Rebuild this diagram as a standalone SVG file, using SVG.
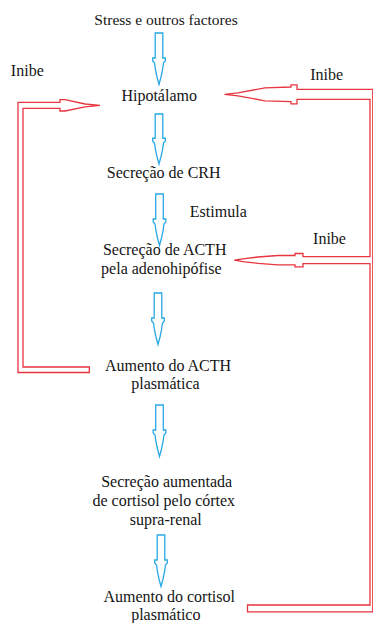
<svg xmlns="http://www.w3.org/2000/svg" xmlns:xlink="http://www.w3.org/1999/xlink" width="373" height="623" viewBox="0 0 373 623">
<style>
text{font-family:'Liberation Serif','Times New Roman','DejaVu Serif',serif;font-size:16px;fill:#151515;text-anchor:middle}
.blue{fill:#fff;stroke:#29a8e6;stroke-width:1.3;stroke-linejoin:miter}
.red{fill:none;stroke:#e8353f;stroke-width:1.3;stroke-linejoin:miter}
</style>
<defs>
<path id="ba" d="M-3.8,0 L3.8,0 L3.8,25 L6.3,25 L6.3,28 L4.5,30 L3.5,37 L2,44 L0,51.5 L-2,44 L-3.5,37 L-4.5,30 L-6.3,28 L-6.3,25 L-3.8,25 Z"/>
</defs>
<rect width="373" height="623" fill="#fff"/>
<g id="connectors">
<use xlink:href="#ba" class="blue" transform="translate(159,33)"/>
<use xlink:href="#ba" class="blue" transform="translate(159,114) scale(1,0.97)"/>
<use xlink:href="#ba" class="blue" transform="translate(159.5,194)"/>
<use xlink:href="#ba" class="blue" transform="translate(158,293)"/>
<use xlink:href="#ba" class="blue" transform="translate(159.5,405)"/>
<use xlink:href="#ba" class="blue" transform="translate(161,535)"/>
<path id="left-loop" class="red" d="M89.3,372.5 L18,372.5 L18,102.3 L60,102.3 L60,99.7 L65,99.7 L85,104 L100,105.3 L85,106.8 L65,111 L60,111 L60,108.3 L23,108.3 L23,367 L89.3,367 Z"/>
<path id="right-loop" class="red" d="M224.5,94.3 L238,92.8 L265,87.8 L291,87 L291,84.8 L297,84.8 L297,89.3 L372.8,89.3 L372.8,611.8 L247.5,611.8 L247.5,605 L370,605 L370,263.7 L303,263.7 L303,266.9 L295,266.9 L295,264.9 L278,264.9 L258,263.4 L243,261.6 L234.3,260.2 L243,258.8 L258,257 L278,255.5 L295,255.5 L295,253.5 L303,253.5 L303,256.7 L370,256.7 L370,99.3 L297,99.3 L297,103.8 L291,103.8 L291,101.6 L265,100.8 L238,95.8 Z"/>
</g>
<g id="n-stress"><text x="166" y="25" font-family="Liberation Serif, serif" style="font-size:15.5px">Stress e outros factores</text></g>
<g id="lbl-inibe-1"><text x="27.3" y="76" font-family="Liberation Serif, serif">Inibe</text></g>
<g id="lbl-inibe-2"><text x="326.7" y="80" font-family="Liberation Serif, serif">Inibe</text></g>
<g id="n-hipotalamo"><text x="159.2" y="101" font-family="Liberation Serif, serif">Hipotálamo</text></g>
<g id="n-crh"><text x="163.7" y="178" font-family="Liberation Serif, serif">Secreção de CRH</text></g>
<g id="lbl-estimula"><text x="218.3" y="216.5" font-family="Liberation Serif, serif">Estimula</text></g>
<g id="lbl-inibe-3"><text x="329.5" y="244" font-family="Liberation Serif, serif">Inibe</text></g>
<g id="n-acth"><text x="164.7" y="255" font-family="Liberation Serif, serif">Secreção de ACTH</text><text x="161.3" y="274" font-family="Liberation Serif, serif">pela adenohipófise</text></g>
<g id="n-acth-plasma"><text x="168" y="370.5" font-family="Liberation Serif, serif">Aumento do ACTH</text><text x="165.5" y="389" font-family="Liberation Serif, serif">plasmática</text></g>
<g id="n-cortisol-sec"><text x="166.7" y="486.5" font-family="Liberation Serif, serif">Secreção aumentada</text><text x="163.8" y="505.5" font-family="Liberation Serif, serif">de cortisol pelo córtex</text><text x="165.8" y="525" font-family="Liberation Serif, serif">supra-renal</text></g>
<g id="n-cortisol-plasma"><text x="169.2" y="601.5" font-family="Liberation Serif, serif">Aumento do cortisol</text><text x="165.8" y="620" font-family="Liberation Serif, serif">plasmático</text></g>
</svg>
